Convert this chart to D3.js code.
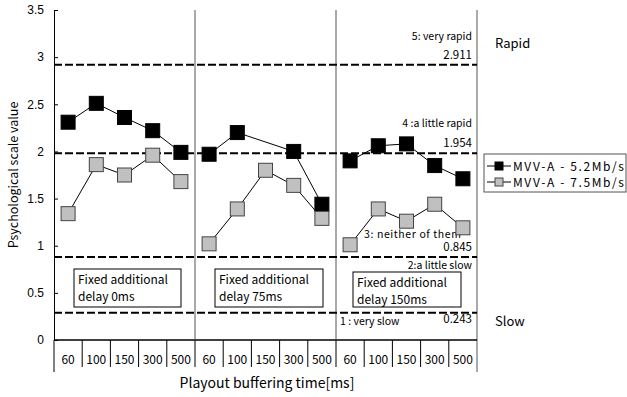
<!DOCTYPE html>
<html>
<head>
<meta charset="utf-8">
<script src="https://cdn.jsdelivr.net/npm/d3@7"></script>
<style>
  body { margin: 0; background: #fff; }
  svg { display: block; font-family: "Noto Sans CJK JP", "Liberation Sans", sans-serif; }
</style>
</head>
<body>
<svg width="627" height="397"></svg>
<script>
var panels = ['Fixed additional|delay 0ms', 'Fixed additional|delay 75ms', 'Fixed additional|delay 150ms'];
var buffers = ['60', '100', '150', '300', '500'];
var series = ['MVV-A - 5.2Mb/s', 'MVV-A - 7.5Mb/s'];
// one row per panel, values per buffering time
var mvv52 = [
  [2.31, 2.51, 2.36, 2.22, 1.99],
  [1.97, 2.20, null, 2.00, 1.44],
  [1.90, 2.06, 2.08, 1.85, 1.71]
];
var mvv75 = [
  [1.34, 1.86, 1.75, 1.96, 1.68],
  [1.02, 1.39, 1.80, 1.64, 1.29],
  [1.01, 1.39, 1.26, 1.44, 1.19]
];
var levelLines = [2.92, 1.98, 0.88, 0.29];
var levelValues = ['2.911', '1.954', '0.845', '0.243'];
var levelNames = ['5: very rapid', '4 :a little rapid', '3: neither of them', '2:a little slow', '1 : very slow'];
var yTicks = [0, 0.5, 1, 1.5, 2, 2.5, 3, 3.5];

var plotL = 54, plotR = 477, plotT = 10, plotB = 340;
var svg = d3.select('svg');

var keys = [];
panels.forEach(function (p, i) {
  buffers.forEach(function (b) { keys.push(i + '-' + b); });
});
var x = d3.scaleBand().domain(keys).range([plotL, plotR]);
var y = d3.scaleLinear().domain([0, 3.5]).range([plotB, plotT]);

// y axis
var yAxis = d3.axisLeft(y)
  .tickValues(yTicks)
  .tickFormat(d3.format('~g'))
  .tickSizeInner(-4)
  .tickSizeOuter(0)
  .tickPadding(10);
var ga = svg.append('g')
  .attr('transform', `translate(${plotL},0)`)
  .call(yAxis);
ga.selectAll('text').style('font-size', '12px').attr('fill', '#000');
ga.select('.domain').attr('stroke', '#000');

// frame lines
svg.append('line').attr('x1', plotL).attr('x2', plotL).attr('y1', plotB).attr('y2', 372).attr('stroke', '#000');
svg.append('line').attr('x1', plotR).attr('x2', plotR).attr('y1', plotT).attr('y2', 372).attr('stroke', '#555');
svg.append('line').attr('x1', plotL).attr('x2', plotR).attr('y1', plotB).attr('y2', plotB).attr('stroke', '#000').attr('stroke-width', 1.5);

// panel separators
[1, 2].forEach(function (i) {
  var px = x(i + '-60');
  svg.append('line').attr('x1', px).attr('x2', px).attr('y1', plotT).attr('y2', plotB).attr('stroke', '#555');
});

// category dividers under axis
keys.slice(1).forEach(function (k) {
  svg.append('line').attr('x1', x(k)).attr('x2', x(k)).attr('y1', plotB).attr('y2', 367).attr('stroke', '#000');
});
svg.selectAll('.xlab')
  .data(keys)
  .enter().append('text')
  .attr('class', 'xlab')
  .attr('x', d => x(d) + x.bandwidth() / 2)
  .attr('y', 364)
  .attr('text-anchor', 'middle')
  .style('font-size', '12px')
  .text(d => d.split('-')[1]);

svg.append('text')
  .attr('x', 267).attr('y', 388)
  .attr('text-anchor', 'middle')
  .style('font-size', '14px')
  .text('Playout buffering time[ms]');
svg.append('text')
  .attr('transform', 'translate(18,175) rotate(-90)')
  .attr('text-anchor', 'middle')
  .style('font-size', '12.5px')
  .text('Psychological scale value');

// level lines
svg.selectAll('.level')
  .data(levelLines)
  .enter().append('line')
  .attr('class', 'level')
  .attr('x1', plotL).attr('x2', plotR)
  .attr('y1', d => y(d)).attr('y2', d => y(d))
  .attr('stroke', '#000')
  .attr('stroke-width', 2)
  .attr('stroke-dasharray', '8,3');

var fs = '10.5px';
var lx = plotR - 5;
svg.selectAll('.lval')
  .data(levelValues)
  .enter().append('text')
  .attr('class', 'lval')
  .attr('x', lx)
  .attr('y', (d, i) => i < 3 ? y(levelLines[i]) - 6 : y(levelLines[i]) + 10)
  .attr('text-anchor', 'end')
  .style('font-size', '11.5px')
  .text(d => d);
// level names
svg.append('text').attr('x', lx).attr('y', y(levelLines[0]) - 25).attr('text-anchor', 'end').style('font-size', fs).text(levelNames[0]);
svg.append('text').attr('x', lx).attr('y', y(levelLines[1]) - 26).attr('text-anchor', 'end').style('font-size', fs).text(levelNames[1]);
svg.append('text').attr('x', x('2-60') + 28).attr('y', y(levelLines[2]) - 19).style('font-size', fs).style('letter-spacing', '0.6px').text(levelNames[2]);
svg.append('text').attr('x', lx).attr('y', y(levelLines[2]) + 12).attr('text-anchor', 'end').style('font-size', fs).text(levelNames[3]);
svg.append('text').attr('x', x('2-60') + 4).attr('y', y(levelLines[3]) + 12).style('font-size', fs).text(levelNames[4]);

svg.append('text').attr('x', 495).attr('y', 48).style('font-size', '13px').text('Rapid');
svg.append('text').attr('x', 495).attr('y', 326).style('font-size', '13px').text('Slow');

// panel boxes
var boxes = [[74, 269, 107, 38], [215, 269, 108, 38], [353, 272, 108, 35]];
panels.forEach(function (p, i) {
  var b = boxes[i];
  svg.append('rect').attr('x', b[0]).attr('y', b[1]).attr('width', b[2]).attr('height', b[3])
    .attr('fill', '#fff').attr('stroke', '#000');
  p.split('|').forEach(function (line, j) {
    svg.append('text').attr('x', b[0] + 4).attr('y', b[1] + 15 + j * 17)
      .style('font-size', '12px').text(line);
  });
});

// series
var colors = ['#000', '#c0c0c0'];
var strokes = ['#000', '#444'];
var line = d3.line()
  .x(d => x(d.k) + x.bandwidth() / 2)
  .y(d => y(d.v));
[mvv52, mvv75].forEach(function (data, s) {
  data.forEach(function (row, p) {
    var pts = row.map((v, j) => ({ k: p + '-' + buffers[j], v: v })).filter(d => d.v != null);
    svg.append('path').attr('d', line(pts)).attr('fill', 'none').attr('stroke', '#000').attr('stroke-width', 1);
  });
});
[mvv52, mvv75].forEach(function (data, s) {
  data.forEach(function (row, p) {
    var pts = row.map((v, j) => ({ k: p + '-' + buffers[j], v: v })).filter(d => d.v != null);
    svg.selectAll(null).data(pts).enter().append('rect')
      .attr('x', d => x(d.k) + x.bandwidth() / 2 - 7)
      .attr('y', d => y(d.v) - 7)
      .attr('width', 14).attr('height', 14)
      .attr('fill', colors[s]).attr('stroke', strokes[s]).attr('stroke-width', 1);
  });
});

// legend
var lg = svg.append('g').attr('transform', 'translate(484,154)');
lg.append('rect').attr('width', 142).attr('height', 38).attr('fill', '#fff').attr('stroke', '#555');
series.forEach(function (name, i) {
  var ly = 12 + i * 16;
  lg.append('line').attr('x1', 3).attr('x2', 27).attr('y1', ly).attr('y2', ly).attr('stroke', '#000');
  lg.append('rect').attr('x', 11).attr('y', ly - 4).attr('width', 8).attr('height', 8)
    .attr('fill', colors[i]).attr('stroke', strokes[i]);
  lg.append('text').attr('x', 29).attr('y', ly + 4.5).style('font-size', '12px')
    .style('letter-spacing', '1.6px').text(name);
});
</script>
</body>
</html>
